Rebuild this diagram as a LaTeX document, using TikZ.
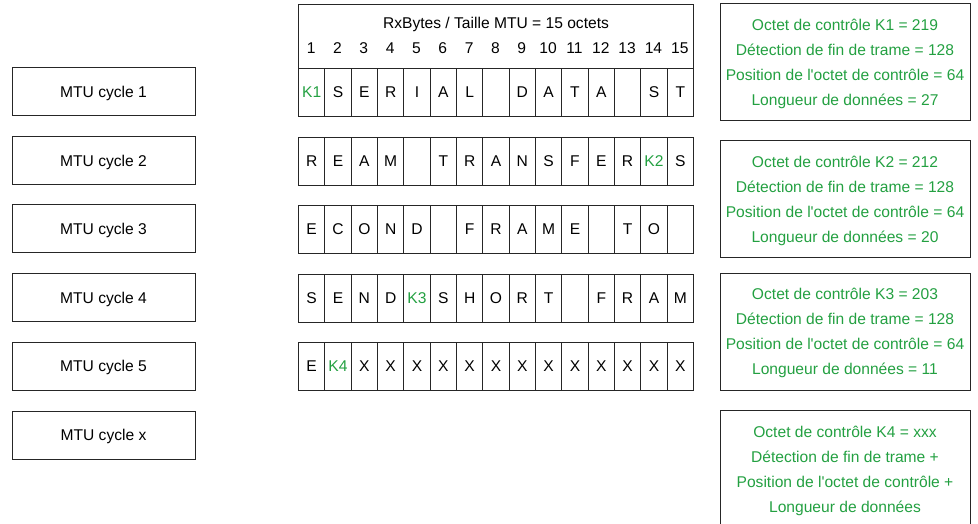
\documentclass[tikz,border=0pt]{standalone}
\usepackage{fontspec}
\setmainfont{Liberation Sans}
\definecolor{ctlgreen}{RGB}{35,160,65}
\newcommand{\ctl}[1]{\textcolor{ctlgreen}{#1}}

\begin{document}
\begin{tikzpicture}[x=1pt,y=-1pt,font=\fontsize{15.6}{25}\selectfont]
\tikzstyle{cyclebox}=[draw=black!85,line width=1pt,minimum width=183pt,minimum height=48pt,inner sep=0pt,text depth=0pt]
\tikzstyle{cell}=[draw=black!85,line width=1pt,minimum width=26.33pt,minimum height=48pt,inner sep=0pt,anchor=north west]
\tikzstyle{infobox}=[draw=black!85,line width=1pt,minimum width=250pt,minimum height=117pt,text=ctlgreen,align=center,inner sep=0pt,text depth=0pt]

\useasboundingbox (0,0) rectangle (978,524);
\clip (0,0) rectangle (978,524);

% MTU cycles
\node[cyclebox] (c1) at (103.5,92) {MTU cycle 1};
\node[cyclebox] (c2) at (103.5,160.5) {MTU cycle 2};
\node[cyclebox] (c3) at (103.5,228.5) {MTU cycle 3};
\node[cyclebox] (c4) at (103.5,297.5) {MTU cycle 4};
\node[cyclebox] (c5) at (103.5,366) {MTU cycle 5};
\node[cyclebox] (cx) at (103.5,435) {MTU cycle x};

% header
\node[draw=black!85,line width=1pt,minimum width=395pt,minimum height=64pt,inner sep=0pt,anchor=north west] (head) at (298,4) {};
\node[text depth=0pt] (title) at (496,23) {RxBytes / Taille MTU = 15 octets};
\foreach \i in {1,...,15}
  \node (n\i) at (298+26.33*\i-13.17,48) {\i};

% RxBytes rows
\foreach \ch [count=\i] in {\ctl{K1},S,E,R,I,A,L,{},D,A,T,A,{},S,T}
  \node[cell] (a\i) at (298+26.33*\i-26.33,68) {\ch};
\foreach \ch [count=\i] in {R,E,A,M,{},T,R,A,N,S,F,E,R,\ctl{K2},S}
  \node[cell] (b\i) at (298+26.33*\i-26.33,137) {\ch};
\foreach \ch [count=\i] in {E,C,O,N,D,{},F,R,A,M,E,{},T,O,{}}
  \node[cell] (d\i) at (298+26.33*\i-26.33,205) {\ch};
\foreach \ch [count=\i] in {S,E,N,D,\ctl{K3},S,H,O,R,T,{},F,R,A,M}
  \node[cell] (e\i) at (298+26.33*\i-26.33,274) {\ch};
\foreach \ch [count=\i] in {E,\ctl{K4},X,X,X,X,X,X,X,X,X,X,X,X,X}
  \node[cell] (f\i) at (298+26.33*\i-26.33,342) {\ch};

% control bytes
\node[infobox] (k1) at (845,62.5) {Octet de contrôle K1 = 219\\Détection de fin de trame = 128\\Position de l\textquotesingle octet de contrôle = 64\\Longueur de données = 27};
\node[infobox] (k2) at (845,199) {Octet de contrôle K2 = 212\\Détection de fin de trame = 128\\Position de l\textquotesingle octet de contrôle = 64\\Longueur de données = 20};
\node[infobox] (k3) at (845,331.5) {Octet de contrôle K3 = 203\\Détection de fin de trame = 128\\Position de l\textquotesingle octet de contrôle = 64\\Longueur de données = 11};
\node[infobox] (k4) at (845,469) {Octet de contrôle K4 = xxx\\Détection de fin de trame +\\Position de l\textquotesingle octet de contrôle +\\Longueur de données};

\end{tikzpicture}
\end{document}
